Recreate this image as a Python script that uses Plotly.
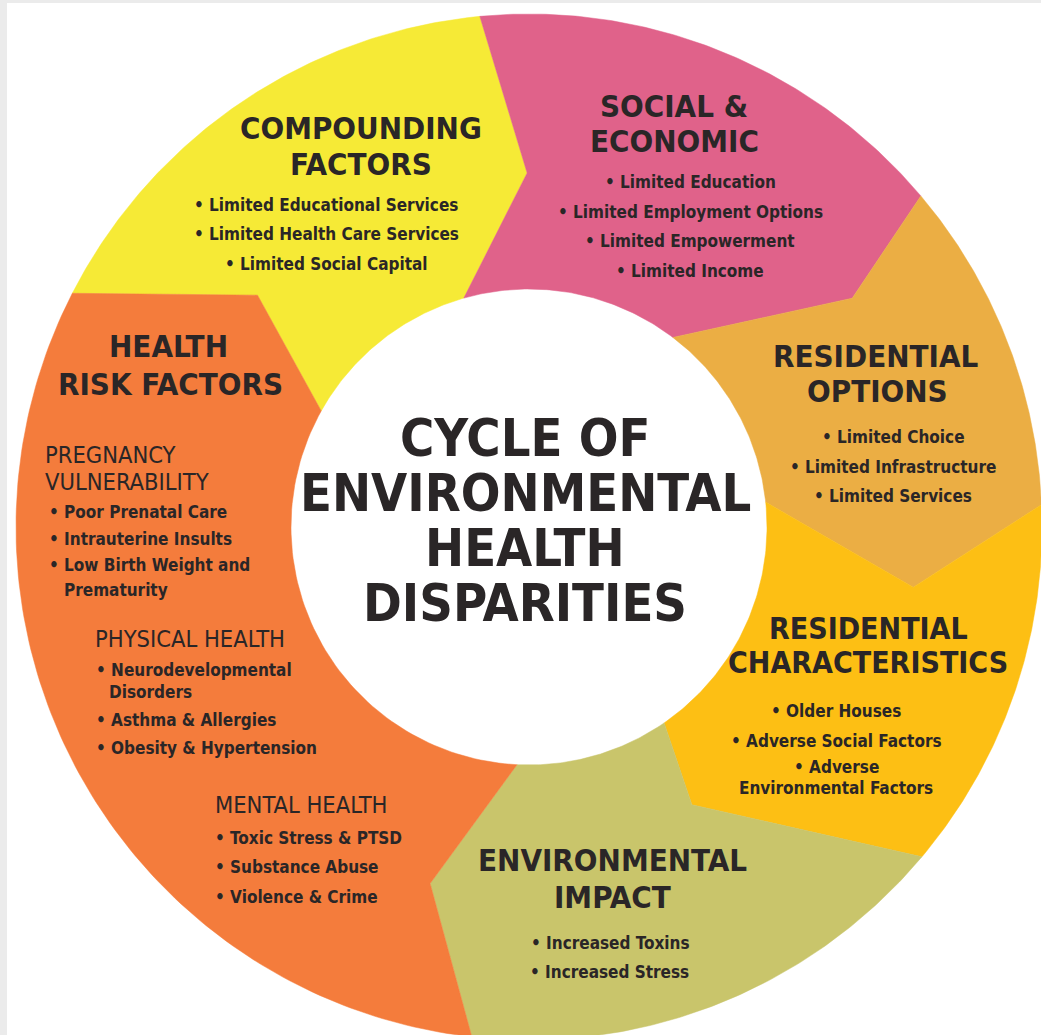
import numpy as np
import plotly.graph_objects as go

# ── Data ─────────────────────────────────────────────────────
SEGMENTS = ["Compounding Factors", "Social & Economic", "Residential Options",
            "Residential Characteristics", "Environmental Impact", "Health Risk Factors"]
SEG_COLORS = ["#F6EA36", "#E0628A", "#EBAE44", "#FDBF14", "#C9C56B", "#F47C3C"]

# boundary on the counter-clockwise side of each segment (degrees, chevron points clockwise)
EDGE_OUTER = [152.9, 95.5, 40.2, 2.5, -40.0, -96.4]
EDGE_TIP = [139.5, 90.3, 35.3, -8.9, -59.6, -105.5]
EDGE_TIP_R = [357, 354, 396, 389, 322, 370]
EDGE_INNER = [150.8, 105.9, 52.8, 6.0, -55.4, -92.9]

TITLE_LINES = ["CYCLE OF", "ENVIRONMENTAL", "HEALTH", "DISPARITIES"]

COMPOUNDING_HEAD = ["COMPOUNDING", "FACTORS"]
COMPOUNDING_ITEMS = ["Limited Educational Services", "Limited Health Care Services",
                     "Limited Social Capital"]
SOCIAL_HEAD = ["SOCIAL &", "ECONOMIC"]
SOCIAL_ITEMS = ["Limited Education", "Limited Employment Options",
                "Limited Empowerment", "Limited Income"]
RES_OPT_HEAD = ["RESIDENTIAL", "OPTIONS"]
RES_OPT_ITEMS = ["Limited Choice", "Limited Infrastructure", "Limited Services"]
RES_CHAR_HEAD = ["RESIDENTIAL", "CHARACTERISTICS"]
RES_CHAR_ITEMS = ["Older Houses", "Adverse Social Factors", "Adverse", "Environmental Factors"]
ENV_HEAD = ["ENVIRONMENTAL", "IMPACT"]
ENV_ITEMS = ["Increased Toxins", "Increased Stress"]
HEALTH_HEAD = ["HEALTH", "RISK FACTORS"]
PREG_HEAD = ["PREGNANCY", "VULNERABILITY"]
PREG_ITEMS = ["Poor Prenatal Care", "Intrauterine Insults", "Low Birth Weight and", "Prematurity"]
PHYS_HEAD = ["PHYSICAL HEALTH"]
PHYS_ITEMS = ["Neurodevelopmental", "Disorders", "Asthma & Allergies", "Obesity & Hypertension"]
MENTAL_HEAD = ["MENTAL HEALTH"]
MENTAL_ITEMS = ["Toxic Stress & PTSD", "Substance Abuse", "Violence & Crime"]

# ── Geometry / style ─────────────────────────────────────────
W, H = 1041, 1035
CX, CY = 529, 527
R_OUT, R_IN = 513, 238
TEXT = "#2A2627"
FONT = "DejaVu Sans Condensed, Liberation Sans Narrow, sans-serif"
HEAD_SIZE = 31
ITEM_SIZE = 17
SUB_SIZE = 23.5


def polar(r, deg):
    t = np.radians(deg)
    return r * np.cos(t), r * np.sin(t)


def segment_path(i):
    j = (i + 1) % len(SEGMENTS)
    a0, t0, i0 = EDGE_OUTER[i], EDGE_TIP[i], EDGE_INNER[i]
    a1, t1, i1 = EDGE_OUTER[j], EDGE_TIP[j], EDGE_INNER[j]
    shift = 360 if a1 > a0 else 0
    a1, t1, i1 = a1 - shift, t1 - shift, i1 - shift

    xo, yo = polar(R_OUT, np.linspace(a0, a1, 120))
    xt1, yt1 = polar(EDGE_TIP_R[j], t1)
    xi, yi = polar(R_IN, np.linspace(i1, i0, 80))
    xt0, yt0 = polar(EDGE_TIP_R[i], t0)
    xs = list(xo) + [xt1] + list(xi) + [xt0, xo[0]]
    ys = list(yo) + [yt1] + list(yi) + [yt0, yo[0]]
    return xs, ys


fig = go.Figure()
for i, name in enumerate(SEGMENTS):
    xs, ys = segment_path(i)
    fig.add_trace(go.Scatter(
        x=xs, y=ys, mode="lines", fill="toself", name=name,
        fillcolor=SEG_COLORS[i], line=dict(color=SEG_COLORS[i], width=0.5),
        hoverinfo="name",
    ))

annotations = []


def txt(xp, yp, s, size, align="center", weight="bold"):
    annotations.append(dict(
        x=xp - CX, y=CY - yp, xref="x", yref="y", text=s, showarrow=False,
        xanchor=align, yanchor="middle",
        font=dict(family=FONT, size=size, color=TEXT, weight=weight),
    ))


def bullet(s):
    return "\u2022 " + s


# centre title
for k, yp in enumerate([438, 493, 548, 603]):
    txt(525, yp, TITLE_LINES[k], 52)

# compounding factors
txt(361, 128, COMPOUNDING_HEAD[0], HEAD_SIZE)
txt(361, 164, COMPOUNDING_HEAD[1], HEAD_SIZE)
for k, yp in enumerate([205, 234, 264]):
    txt(326, yp, bullet(COMPOUNDING_ITEMS[k]), ITEM_SIZE)

# social & economic
txt(674, 106, SOCIAL_HEAD[0], HEAD_SIZE)
txt(674, 141, SOCIAL_HEAD[1], HEAD_SIZE)
for k, yp in enumerate([182, 212, 241, 271]):
    txt(690, yp, bullet(SOCIAL_ITEMS[k]), ITEM_SIZE)

# residential options
txt(876, 356, RES_OPT_HEAD[0], HEAD_SIZE)
txt(877, 391, RES_OPT_HEAD[1], HEAD_SIZE)
for k, yp in enumerate([437, 467, 496]):
    txt(893, yp, bullet(RES_OPT_ITEMS[k]), ITEM_SIZE)

# residential characteristics
txt(868, 628, RES_CHAR_HEAD[0], 30)
txt(868, 662, RES_CHAR_HEAD[1], 30)
txt(836, 711, bullet(RES_CHAR_ITEMS[0]), ITEM_SIZE)
txt(836, 741, bullet(RES_CHAR_ITEMS[1]), ITEM_SIZE)
txt(836, 767, bullet(RES_CHAR_ITEMS[2]), ITEM_SIZE)
txt(836, 788, RES_CHAR_ITEMS[3], ITEM_SIZE)

# environmental impact
txt(612, 860, ENV_HEAD[0], HEAD_SIZE)
txt(612, 897, ENV_HEAD[1], HEAD_SIZE)
txt(610, 943, bullet(ENV_ITEMS[0]), ITEM_SIZE)
txt(609, 972, bullet(ENV_ITEMS[1]), ITEM_SIZE)

# health risk factors
txt(168, 346, HEALTH_HEAD[0], HEAD_SIZE)
txt(170, 384, HEALTH_HEAD[1], HEAD_SIZE)

txt(43, 455, PREG_HEAD[0], SUB_SIZE, "left", "normal")
txt(43, 482, PREG_HEAD[1], SUB_SIZE, "left", "normal")
txt(47, 512, bullet(PREG_ITEMS[0]), ITEM_SIZE, "left")
txt(47, 539, bullet(PREG_ITEMS[1]), ITEM_SIZE, "left")
txt(47, 565, bullet(PREG_ITEMS[2]), ITEM_SIZE, "left")
txt(62, 590, PREG_ITEMS[3], ITEM_SIZE, "left")

txt(93, 639, PHYS_HEAD[0], SUB_SIZE, "left", "normal")
txt(94, 670, bullet(PHYS_ITEMS[0]), ITEM_SIZE, "left")
txt(107, 692, PHYS_ITEMS[1], ITEM_SIZE, "left")
txt(94, 720, bullet(PHYS_ITEMS[2]), ITEM_SIZE, "left")
txt(94, 748, bullet(PHYS_ITEMS[3]), ITEM_SIZE, "left")

txt(213, 805, MENTAL_HEAD[0], SUB_SIZE, "left", "normal")
for k, yp in enumerate([838, 867, 897]):
    txt(213, yp, bullet(MENTAL_ITEMS[k]), ITEM_SIZE, "left")

fig.update_layout(
    width=W, height=H,
    margin=dict(l=0, r=0, t=0, b=0),
    paper_bgcolor="white", plot_bgcolor="white",
    showlegend=False,
    xaxis=dict(range=[-CX, W - CX], visible=False, fixedrange=True),
    yaxis=dict(range=[-(H - CY), CY], visible=False, fixedrange=True),
    annotations=annotations,
    shapes=[
        dict(type="rect", xref="paper", yref="paper", x0=0, x1=7 / W, y0=0, y1=1,
             fillcolor="#EBEBEB", line_width=0, layer="above"),
        dict(type="rect", xref="paper", yref="paper", x0=0, x1=1, y0=1 - 3 / H, y1=1,
             fillcolor="#EBEBEB", line_width=0, layer="above"),
    ],
)

fig.write_html("out.html", config={"displayModeBar": False},
               post_script="document.body.style.margin='0';document.body.style.overflow='hidden';")
